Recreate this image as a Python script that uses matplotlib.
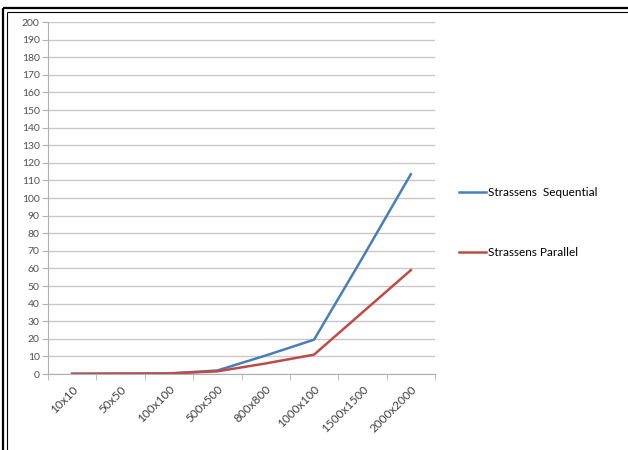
import matplotlib.pyplot as plt
from matplotlib.lines import Line2D
import numpy as np

plt.rcParams['font.family'] = ['Liberation Sans Narrow', 'Lato', 'DejaVu Sans']

sizes = ['10x10', '50x50', '100x100', '500x500', '800x800',
         '1000x100', '1500x1500', '2000x2000']
sequential = [0.1, 0.2, 0.3, 2, 10.5, 19.5, 66, 113.5]
parallel = [0.1, 0.2, 0.3, 1.5, 6, 11, 35, 59]

W, H = 628, 450
fig = plt.figure(figsize=(W / 100, H / 100), dpi=100)
ax = fig.add_axes([48 / W, 76 / H, 387 / W, 352 / H])

x = np.arange(len(sizes))
ax.plot(x, sequential, color='#4a7ebb', lw=1.8, label='Strassens  Sequential')
ax.plot(x, parallel, color='#be4b48', lw=1.8, label='Strassens Parallel')

ax.set_xlim(-0.5, len(sizes) - 0.5)
ax.set_ylim(0, 200)
ax.set_yticks(range(0, 201, 10))
ax.yaxis.grid(True, color='#c8c8c8', lw=1)
ax.set_axisbelow(True)

ax.set_xticks(x)
ax.set_xticklabels(sizes, rotation=45, ha='right', rotation_mode='anchor',
                   fontsize=8.5, color='#404040')
ax.set_xticks(np.arange(len(sizes) + 1) - 0.5, minor=True)
ax.tick_params(axis='x', which='major', length=0, pad=7)
ax.tick_params(axis='x', which='minor', length=4, color='#b0b0b0')
ax.tick_params(axis='y', length=4, color='#b0b0b0', labelsize=7.5,
               labelcolor='#505050', pad=2)

for side in ['top', 'right']:
    ax.spines[side].set_visible(False)
for side in ['left', 'bottom']:
    ax.spines[side].set_color('#b0b0b0')

ax.legend(loc='center left', bbox_to_anchor=(1.035, 0.43), frameon=False,
          fontsize=8.5, handlelength=2.3, handletextpad=0.1, labelspacing=4.2)

# double border along the top and left edges
def edge(xs, ys, lw):
    fig.add_artist(Line2D([v / W for v in xs], [1 - v / H for v in ys],
                          transform=fig.transFigure, color='black', lw=lw,
                          solid_capstyle='butt'))

edge([3, 3], [8, H], 1.6)
edge([3, W], [8, 8], 1.6)
edge([7, 7], [12, H], 0.8)
edge([7, W], [12, 12], 0.8)

fig.savefig('out.png', dpi=100)
